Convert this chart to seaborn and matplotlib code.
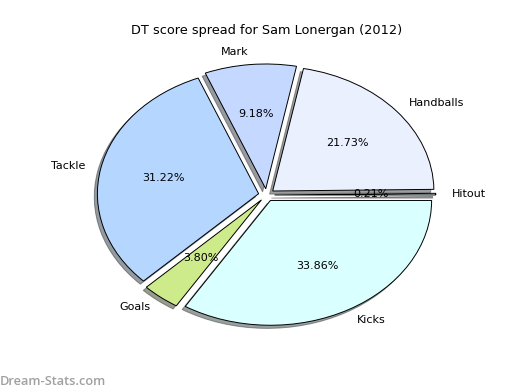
import matplotlib
matplotlib.use("Agg")
import matplotlib.pyplot as plt
import seaborn as sns

# DT score breakdown
labels = ["Hitout", "Handballs", "Mark", "Tackle", "Goals", "Kicks"]
shares = [0.21, 21.73, 9.18, 31.22, 3.80, 33.86]
slice_colors = ["#e6f7ff", "#ebf0ff", "#c5d8ff", "#b5d6ff", "#cdeb8b", "#d9ffff"]

sns.set_style("white")
plt.rcParams["font.family"] = ["DejaVu Sans"]
plt.rcParams["text.color"] = "black"

fig = plt.figure(figsize=(5.2, 3.9), dpi=100)
ax = fig.add_axes([0.125, 0.1, 0.775, 0.8])

ax.pie(shares, labels=labels, colors=slice_colors, explode=[0.05] * len(shares),
       autopct="%.2f%%", startangle=0,
       shadow={"ox": -0.014, "oy": -0.018, "shade": 0.75},
       wedgeprops={"edgecolor": "black", "linewidth": 0.7},
       textprops={"fontsize": 8, "color": "black"})
ax.set_aspect("auto")
ax.set_xlim(-1.25, 1.25)
ax.set_ylim(-1.25, 1.25)
ax.axis("off")
ax.set_title("DT score spread for Sam Lonergan (2012)", fontsize=9.3, pad=10,
             color="black", y=0.97)

fig.text(0.0, 0.013, "Dream-Stats.com", fontsize=9.2, fontweight="semibold",
         color="#a0a0a0", family=["Open Sans", "DejaVu Sans"])

fig.savefig("out.png", dpi=100, facecolor="white")
